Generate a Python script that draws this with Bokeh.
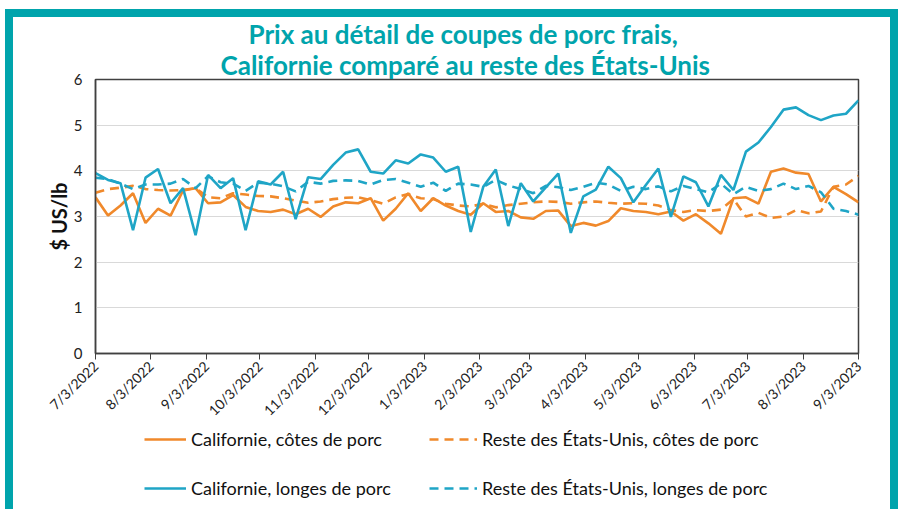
import math
from datetime import datetime
from bokeh.plotting import figure
from bokeh.models import (Range1d, FixedTicker, Legend, LegendItem, Title)
from bokeh.layouts import column
from bokeh.embed import file_html
from bokeh.resources import INLINE

# ---------------- data ----------------
start_date = "7/3/2022"
n_weeks = 62

tick_labels = ["7/3/2022", "8/3/2022", "9/3/2022", "10/3/2022", "11/3/2022", "12/3/2022",
               "1/3/2023", "2/3/2023", "3/3/2023", "4/3/2023", "5/3/2023", "6/3/2023",
               "7/3/2023", "8/3/2023", "9/3/2023"]

ca_chop = [3.42, 3.02, 3.24, 3.51, 2.86, 3.17, 3.02, 3.57, 3.62, 3.29,
           3.31, 3.47, 3.21, 3.12, 3.10, 3.15, 3.05, 3.17, 2.99, 3.22,
           3.31, 3.29, 3.40, 2.91, 3.17, 3.51, 3.12, 3.40, 3.24, 3.12,
           3.04, 3.29, 3.10, 3.12, 2.98, 2.95, 3.12, 3.13, 2.79, 2.86,
           2.80, 2.90, 3.18, 3.12, 3.10, 3.05, 3.11, 2.91, 3.05, 2.85,
           2.62, 3.40, 3.42, 3.28, 3.98, 4.05, 3.96, 3.93, 3.33, 3.65,
           3.49, 3.31]

rus_chop = [3.52, 3.60, 3.63, 3.67, 3.60, 3.58, 3.57, 3.58, 3.62, 3.42,
            3.40, 3.51, 3.48, 3.45, 3.44, 3.40, 3.35, 3.30, 3.33, 3.38,
            3.41, 3.42, 3.36, 3.28, 3.42, 3.49, 3.40, 3.38, 3.28, 3.24,
            3.22, 3.28, 3.20, 3.25, 3.28, 3.31, 3.33, 3.32, 3.28, 3.31,
            3.33, 3.30, 3.28, 3.29, 3.28, 3.24, 3.14, 3.10, 3.14, 3.12,
            3.15, 3.38, 3.00, 3.08, 2.97, 3.00, 3.14, 3.07, 3.11, 3.65,
            3.70, 3.89]

ca_loin = [3.95, 3.80, 3.73, 2.70, 3.85, 4.04, 3.29, 3.62, 2.59, 3.91,
           3.62, 3.84, 2.70, 3.77, 3.70, 3.98, 2.94, 3.86, 3.82, 4.13,
           4.40, 4.47, 3.98, 3.94, 4.23, 4.16, 4.36, 4.29, 3.98, 4.09,
           2.66, 3.65, 4.03, 2.79, 3.73, 3.33, 3.64, 3.94, 2.64, 3.44,
           3.59, 4.09, 3.84, 3.31, 3.69, 4.05, 2.99, 3.88, 3.75, 3.22,
           3.91, 3.58, 4.42, 4.62, 4.96, 5.34, 5.39, 5.22, 5.11, 5.21,
           5.25, 5.54]

rus_loin = [3.85, 3.82, 3.72, 3.60, 3.70, 3.70, 3.72, 3.82, 3.62, 3.88,
            3.75, 3.72, 3.56, 3.74, 3.72, 3.66, 3.55, 3.76, 3.72, 3.78,
            3.79, 3.78, 3.70, 3.80, 3.82, 3.74, 3.65, 3.74, 3.56, 3.72,
            3.70, 3.65, 3.80, 3.68, 3.60, 3.51, 3.67, 3.64, 3.58, 3.65,
            3.74, 3.70, 3.56, 3.65, 3.60, 3.66, 3.55, 3.67, 3.60, 3.53,
            3.72, 3.49, 3.65, 3.56, 3.60, 3.72, 3.60, 3.67, 3.53, 3.17,
            3.12, 3.04]

series_names = ["Californie, côtes de porc", "Reste des États-Unis, côtes de porc",
                "Californie, longes de porc", "Reste des États-Unis, longes de porc"]

y_ticks = [0, 1, 2, 3, 4, 5, 6]

title_lines = ["Prix au détail de coupes de porc frais,",
               "Californie comparé au reste des États-Unis"]
y_label = "$ US/lb"

# ---------------- styling ----------------
ORANGE = "#F0892B"
BLUE = "#1FA5C6"
TEAL = "#00A4AC"
FONT = "Lato"
DASH = "9 6"
LW = 2.6

d0 = datetime.strptime(start_date, "%m/%d/%Y")
tick_pos = [(datetime.strptime(t, "%m/%d/%Y") - d0).days for t in tick_labels]
x_days = [7 * i for i in range(n_weeks)]
series = [ca_chop, rus_chop, ca_loin, rus_loin]
styles = [dict(line_color=ORANGE), dict(line_color=ORANGE, line_dash=DASH),
          dict(line_color=BLUE), dict(line_color=BLUE, line_dash=DASH)]

W = 877
H = 410
p = figure(width=W, height=H, output_backend="svg", toolbar_location=None,
           x_range=Range1d(0, tick_pos[-1]), y_range=Range1d(0, 6),
           min_border_left=82, min_border_right=32, min_border_top=61,
           min_border_bottom=73)
p.title = None
p.background_fill_color = "white"
p.border_fill_color = "white"
p.outline_line_color = "#404040"
p.outline_line_width = 1.5

p.xgrid.visible = False
p.ygrid.grid_line_color = "#D9D9D9"
p.ygrid.grid_line_width = 1

p.xaxis.ticker = FixedTicker(ticks=tick_pos)
p.xaxis.major_label_overrides = {tp: lbl for tp, lbl in zip(tick_pos, tick_labels)}
p.xaxis.major_label_orientation = math.pi / 4
p.xaxis.minor_tick_line_color = None
p.xaxis.major_tick_out = 6
p.xaxis.major_tick_in = 0
p.xaxis.axis_line_color = "#404040"
p.xaxis.axis_line_width = 1.5
p.xaxis.major_tick_line_color = "#404040"
p.xaxis.major_label_text_font = FONT
p.xaxis.major_label_text_font_size = "14px"
p.xaxis.major_label_text_color = "#222222"
p.xaxis.major_label_standoff = 4

p.yaxis.ticker = FixedTicker(ticks=y_ticks)
p.yaxis.minor_tick_line_color = None
p.yaxis.major_tick_line_color = None
p.yaxis.major_tick_out = 0
p.yaxis.major_tick_in = 0
p.yaxis.axis_line_color = "#404040"
p.yaxis.axis_line_width = 1.5
p.yaxis.major_label_text_font = FONT
p.yaxis.major_label_text_font_size = "15px"
p.yaxis.major_label_text_color = "#222222"
p.yaxis.major_label_standoff = 13
p.yaxis.axis_label = y_label
p.yaxis.axis_label_text_font = FONT
p.yaxis.axis_label_text_font_style = "bold"
p.yaxis.axis_label_text_font_size = "20px"
p.yaxis.axis_label_text_color = "#111111"
p.yaxis.axis_label_standoff = 0

for ys, st in zip(series, styles):
    p.line(x_days, ys, line_width=LW, **st)

# title: two lines stacked above the frame (first added sits nearest the frame)
for txt, off in zip(reversed(title_lines), [125, 153]):
    p.add_layout(Title(text=txt, align="left", offset=off, standoff=-3,
                       text_font=FONT, text_font_style="bold", text_font_size="26px",
                       text_color=TEAL), "above")

# ---------------- legend strip (frame aligned with the chart frame) ----------------
lf = figure(width=W, height=82, output_backend="svg", toolbar_location=None,
            x_range=Range1d(0, 1), y_range=Range1d(0, 1),
            x_axis_location=None, y_axis_location=None, min_border=0)
lf.title = None
lf.grid.visible = False
lf.outline_line_color = None
lf.background_fill_color = "white"
lf.border_fill_color = "white"

# legend proxies: single-point lines (draw nothing) carrying each series' style
rends = [lf.line(x=x_days[:1], y=ys[:1], line_width=LW, **st) for ys, st in zip(series, styles)]


def make_legend(idx, loc, gw):
    return Legend(items=[LegendItem(label=series_names[i], renderers=[rends[i]]) for i in idx],
                  location=loc, orientation="vertical",
                  background_fill_alpha=0, border_line_color=None,
                  padding=0, margin=0, spacing=27, label_height=20, glyph_height=20,
                  glyph_width=gw, label_standoff=5,
                  label_text_font=FONT, label_text_font_size="18px",
                  label_text_color="#111111")


lf.add_layout(make_legend([0, 2], (49, 10), 42))
lf.add_layout(make_legend([1, 3], (334, 10), 48))

white = column(p, lf, styles={"background-color": "white"})
inner = column(white, styles={"background-color": TEAL, "padding": "8px 8px 0px 8px"})
outer = column(inner, styles={"padding": "9px 0px 0px 5px"})

open("out.html", "w").write(file_html(outer, INLINE))
